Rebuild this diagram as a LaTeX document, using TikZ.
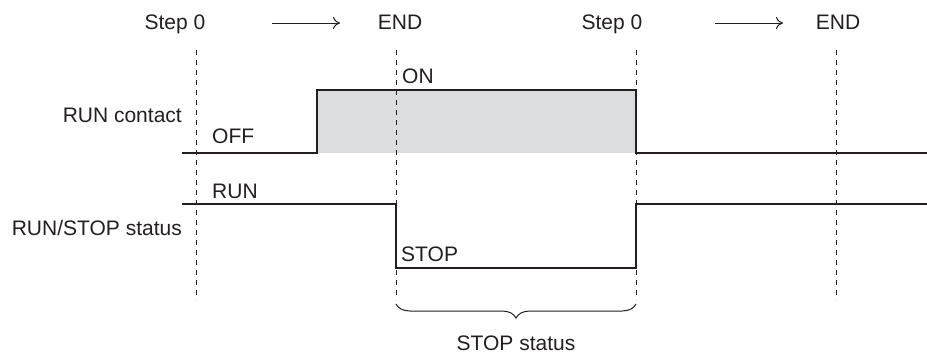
\documentclass[tikz,border=0pt]{standalone}
\usepackage{fontspec}
\setmainfont{Liberation Sans}
\usetikzlibrary{decorations.pathreplacing,arrows.meta}
\definecolor{ink}{RGB}{35,31,32}
\definecolor{fillgray}{RGB}{220,221,223}
\begin{document}
\begin{tikzpicture}[x=1pt,y=-1pt,
  lbl/.style={inner sep=0pt,text=ink,font=\fontsize{21}{25}\selectfont},
  sig/.style={draw=ink,line width=2.8pt,line join=miter},
  guide/.style={draw=ink,line width=1pt,dash pattern=on 5pt off 5pt},
  flow/.style={draw=ink,line width=1pt,-{To[length=7pt,width=12pt]}}]
\useasboundingbox (0,0) rectangle (927,356);
% fill
\fill[fillgray] (317,90) rectangle (636,153);
% guides
\draw[guide] (196,50) -- (196,300);
\draw[guide] (396,50) -- (396,300);
\draw[guide] (636,50) -- (636,300);
\draw[guide] (836,50) -- (836,300);
% signals
\draw[sig] (182,153) -- (317,153) -- (317,90) -- (636,90) -- (636,153) -- (927,153);
\draw[sig] (182,204) -- (396,204) -- (396,268) -- (636,268) -- (636,204) -- (927,204);
% top labels
\node[lbl,anchor=base] (s0a) at (175,30) {Step 0};
\node[lbl,anchor=base] (enda) at (400,30) {END};
\node[lbl,anchor=base] (s0b) at (612,30) {Step 0};
\node[lbl,anchor=base] (endb) at (838,30) {END};
\coordinate (a1) at (272,23); \coordinate (a2) at (340,23);
\coordinate (b1) at (715,23); \coordinate (b2) at (783,23);
\draw[flow] (a1) -- (a2);
\draw[flow] (b1) -- (b2);
% signal labels
\node[lbl,anchor=base east] (runc) at (182,122) {RUN contact};
\node[lbl,anchor=base east] (runs) at (182,235) {RUN/STOP status};
\node[lbl,anchor=base west] (on) at (402,83) {ON};
\node[lbl,anchor=base west] (off) at (212,143) {OFF};
\node[lbl,anchor=base west] (run) at (212,198) {RUN};
\node[lbl,anchor=base west] (stop) at (401,261) {STOP};
% brace
\coordinate (br1) at (396,304);
\coordinate (br2) at (636,304);
\draw[draw=ink,line width=1pt,decorate,decoration={brace,amplitude=14pt,mirror}] (br1) -- (br2);
\node[lbl,anchor=base] (stops) at (516,350) {STOP status};
\end{tikzpicture}
\end{document}
